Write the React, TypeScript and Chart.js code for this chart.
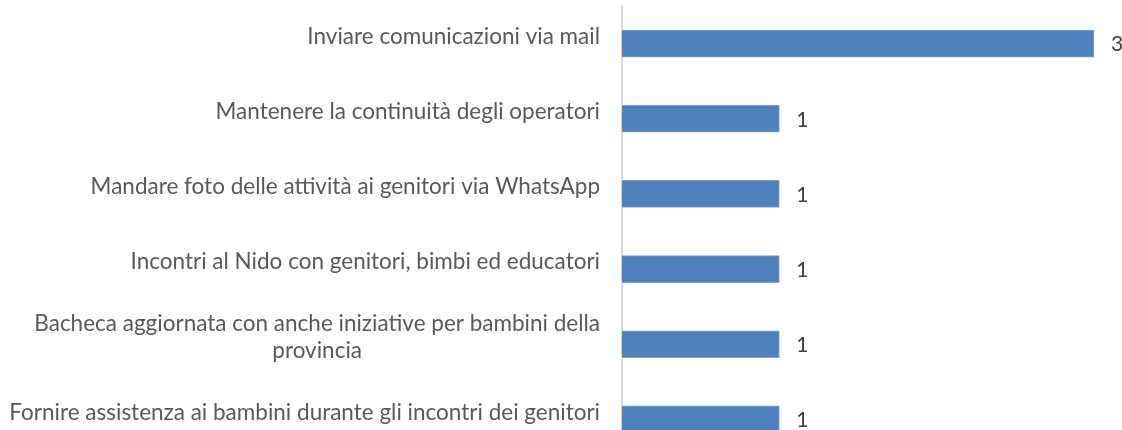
import React, { useEffect, useRef } from "react";
import { Chart, registerables } from "chart.js";

Chart.register(...registerables);

const categories: string[][] = [
  ["Inviare comunicazioni via mail"],
  ["Mantenere la continuità degli operatori"],
  ["Mandare foto delle attività ai genitori via WhatsApp"],
  ["Incontri al Nido con genitori, bimbi ed educatori"],
  ["Bacheca aggiornata con anche iniziative per bambini della", "provincia"],
  ["Fornire assistenza ai bambini durante gli incontri dei genitori"],
];
const values: number[] = [3, 1, 1, 1, 1, 1];

const FONT = "Lato";
const LABEL_SIZE = 22.5;
const VALUE_SIZE = 21;

const labelPlugin = {
  id: "customLabels",
  afterDraw(chart: any) {
    const ctx = chart.ctx;
    const yScale = chart.scales.y;
    ctx.save();
    // category labels
    ctx.font = `${LABEL_SIZE}px ${FONT}`;
    ctx.fillStyle = "#595959";
    ctx.textBaseline = "middle";
    ctx.textAlign = "center";
    const rightEdge = yScale.right - 22;
    const lineH = 27;
    categories.forEach((lines, i) => {
      const y = yScale.getPixelForValue(i) - 7;
      const maxW = Math.max(...lines.map((l) => ctx.measureText(l).width));
      const cx = rightEdge - maxW / 2;
      const y0 = y - ((lines.length - 1) * lineH) / 2;
      lines.forEach((l, j) => ctx.fillText(l, cx, y0 + j * lineH));
    });
    // value labels
    ctx.font = `${VALUE_SIZE}px ${FONT}`;
    ctx.fillStyle = "#404040";
    ctx.textAlign = "left";
    const meta = chart.getDatasetMeta(0);
    meta.data.forEach((bar: any, i: number) => {
      ctx.fillText(String(values[i]), bar.x + 17, bar.y + 1);
    });
    ctx.restore();
  },
};

export default function App() {
  const ref = useRef<HTMLCanvasElement | null>(null);
  useEffect(() => {
    if (!ref.current) return;
    const chart = new Chart(ref.current, {
      type: "bar",
      data: {
        labels: categories.map((c) => c.join(" ")),
        datasets: [
          {
            data: values,
            backgroundColor: "#4F81BD",
            borderColor: "#7FA3D0",
            borderWidth: 1,
            barThickness: 27,
          },
        ],
      },
      options: {
        indexAxis: "y",
        animation: false,
        responsive: true,
        maintainAspectRatio: false,
        layout: { padding: { top: 6, bottom: 3, left: 0, right: 28 } },
        plugins: { legend: { display: false }, tooltip: { enabled: false } },
        scales: {
          x: { display: false, min: 0, max: 3 },
          y: {
            grid: { display: false, drawTicks: false },
            border: { display: true, color: "#D9D9D9", width: 2 },
            ticks: { display: false },
            afterFit: (scale: any) => {
              scale.width = 622;
            },
          },
        },
      },
      plugins: [labelPlugin],
    });
    return () => chart.destroy();
  }, []);
  return (
    <div
      style={{
        position: "absolute",
        left: 0,
        top: 0,
        width: 1122,
        height: 430,
        overflow: "hidden",
        background: "#fff",
      }}
    >
      <div style={{ position: "relative", width: 1122, height: 460 }}>
        <canvas ref={ref} />
      </div>
    </div>
  );
}
